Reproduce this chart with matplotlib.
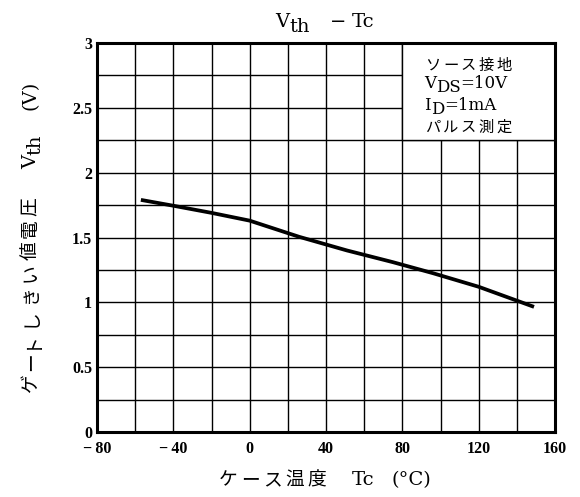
import matplotlib
matplotlib.use("Agg")
import matplotlib.pyplot as plt
from matplotlib.patches import Rectangle

plt.rcParams['font.family'] = ['DejaVu Serif', 'Noto Sans CJK JP']

# data
tc = [-57, -40, -20, 0, 26, 51, 75, 96, 120, 149]
vth = [1.79, 1.745, 1.69, 1.63, 1.505, 1.40, 1.31, 1.225, 1.12, 0.965]

x_ticks = [-80, -40, 0, 40, 80, 120, 160]
x_tick_labels = ['\u2212\u200980', '\u2212\u200940', '0', '40', '80', '120', '160']
y_ticks = [0, 0.5, 1, 1.5, 2, 2.5, 3]
y_tick_labels = ['0', '0.5', '1', '1.5', '2', '2.5', '3']
x_grid = list(range(-80, 161, 20))
y_grid = [i * 0.25 for i in range(13)]

title_parts = ['V', 'th', '\u2212', 'Tc']
xlabel_jp = 'ケース温度'
xlabel_parts = ['Tc', '(°C)']
ylabel_jp = 'ゲートしきい値電圧'
ylabel_parts = ['V', 'th', '(V)']
box_jp1 = 'ソース接地'
box_vds = ['V', 'DS', '=10V']
box_id = ['I', 'D', '=1mA']
box_jp2 = 'パルス測定'

W, H = 580, 497
fig = plt.figure(figsize=(W / 100, H / 100), dpi=100)
L, R, T, B = 97, 555, 43, 432
ax = fig.add_axes([L / W, 1 - B / H, (R - L) / W, (B - T) / H])

ax.set_xlim(-80, 160)
ax.set_ylim(0, 3)

for gx in x_grid:
    ax.axvline(gx, color='black', lw=1.0, zorder=0.5)
for gy in y_grid:
    ax.axhline(gy, color='black', lw=1.0, zorder=0.5)

ax.add_patch(Rectangle((80, 2.25), 80, 0.75, facecolor='white', edgecolor='black', lw=1.0, zorder=1))

ax.plot(tc, vth, color='black', lw=2.7, zorder=3, solid_capstyle='butt')

ax.set_xticks(x_ticks)
ax.set_xticklabels(x_tick_labels)
ax.set_yticks(y_ticks)
ax.set_yticklabels(y_tick_labels)
ax.tick_params(length=0)
ax.tick_params(axis='x', pad=6.8)
ax.tick_params(axis='y', pad=3.5)
for lab in ax.get_xticklabels() + ax.get_yticklabels():
    lab.set_fontfamily(['Liberation Serif', 'DejaVu Serif'])
    lab.set_fontweight('bold')
    lab.set_fontsize(11.5)
for s in ax.spines.values():
    s.set_linewidth(2.2)
    s.set_zorder(4)

SERIF = 'DejaVu Serif'
JP = 'Noto Sans CJK JP'
renderer = fig.canvas.get_renderer()


def place_runs(cx, cy, items, rotation=0, anchor='center'):
    """items: (text, fontsize, family, drop_px, fixed_advance_px or None).
    rotation 0: cx = centre/left x, cy = baseline y (pixels from top).
    rotation 90: cx = baseline x, cy = centre y (pixels from top)."""
    objs = []
    total = 0.0
    for s, fs, fam, dy, adv in items:
        t = None
        if s:
            t = fig.text(0, 0, s, fontsize=fs, family=fam, rotation=rotation,
                         rotation_mode='anchor', ha='center' if adv else 'left',
                         va='baseline')
        if adv is None:
            bb = t.get_window_extent(renderer)
            ln = bb.height if rotation == 90 else bb.width
        else:
            ln = adv
        objs.append((t, ln, dy, adv))
        total += ln
    pos = -total / 2 if anchor == 'center' else 0.0
    for t, ln, dy, adv in objs:
        a = pos + (ln / 2 if adv else 0)
        if t is not None:
            if rotation == 0:
                xp, yp = cx + a, H - cy - dy
            else:
                xp, yp = cx + dy, (H - cy) + a
            t.set_position((xp / W, yp / H))
        pos += ln


def jp_items(s, fs, pitch):
    return [(c, fs, JP, 0, pitch) for c in s]


# title
place_runs(325, 27, [
    (title_parts[0], 14, SERIF, 0, None),
    (title_parts[1], 14, SERIF, 5, None),
    ('', 0, None, 0, 20),
    (title_parts[2], 14, SERIF, 0, None),
    ('', 0, None, 0, 6),
    (title_parts[3], 14, SERIF, 0, None),
])

# x label
place_runs(324, 485, jp_items(xlabel_jp, 13.5, 22.2) + [
    ('', 0, None, 0, 24),
    (xlabel_parts[0], 14, SERIF, 0, None),
    ('', 0, None, 0, 17),
    (xlabel_parts[1], 14, SERIF, 0, None),
])

# y label
place_runs(36, 238, jp_items(ylabel_jp, 13.5, 22.2) + [
    ('', 0, None, 0, 26),
    (ylabel_parts[0], 14, SERIF, 0, None),
    (ylabel_parts[1], 14, SERIF, 4, None),
    ('', 0, None, 0, 24),
    (ylabel_parts[2], 14, SERIF, 0, None),
], rotation=90)

# annotation box text
place_runs(424, 70, jp_items(box_jp1, 11, 17.8), anchor='left')
place_runs(424, 88, [
    (box_vds[0], 12, SERIF, 0, None),
    (box_vds[1], 12, SERIF, 4, None),
    (box_vds[2], 12, SERIF, 0, None),
], anchor='left')
place_runs(424, 110, [
    (box_id[0], 12, SERIF, 0, None),
    (box_id[1], 12, SERIF, 3.5, None),
    (box_id[2], 12, SERIF, 0, None),
], anchor='left')
place_runs(424, 132, jp_items(box_jp2, 11, 17.8), anchor='left')

fig.savefig('out.png', dpi=100)
